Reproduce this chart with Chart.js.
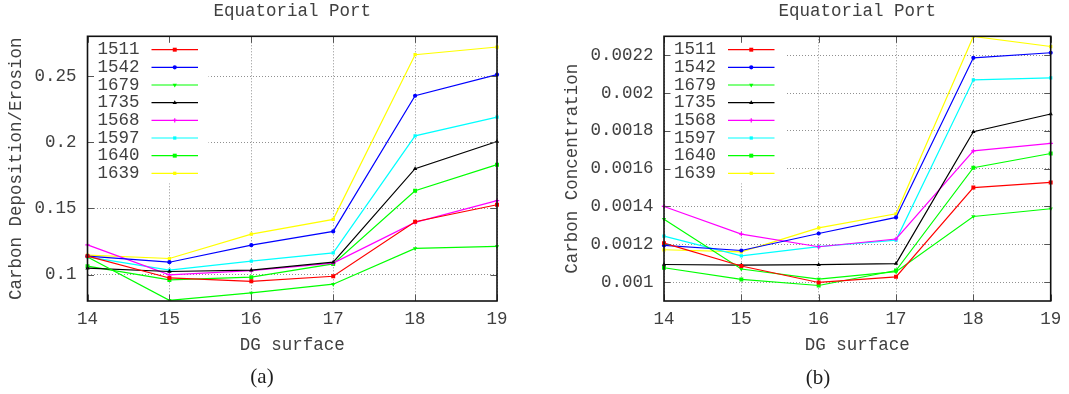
<!DOCTYPE html>
<html>
<head>
<meta charset="utf-8">
<script src="https://cdn.jsdelivr.net/npm/chart.js@4.4.1/dist/chart.umd.min.js"></script>
<style>
  html, body { margin: 0; padding: 0; background: #fff; }
  #wrap { position: relative; width: 1069px; height: 394px; overflow: hidden; background: #fff; }
  canvas { position: absolute; top: 0; }
  #panelA { left: 0; }
  #panelB { left: 530px; }
  .cap {
    position: absolute; font-family: "Liberation Serif", "DejaVu Serif", serif;
    font-size: 21px; line-height: 1; color: #1e1e1e; transform: translate(-50%, -50%);
    white-space: nowrap;
  }
</style>
</head>
<body>
<div id="wrap">
  <canvas id="panelA" width="530" height="394"></canvas>
  <canvas id="panelB" width="539" height="394"></canvas>
  <div class="cap" style="left:262px; top:376px;">(a)</div>
  <div class="cap" style="left:818px; top:376.5px;">(b)</div>
</div>
<script>
// DG surfaces along the port
const surfaces = ['14', '15', '16', '17', '18', '19'];

// Series (one per discharge)
const seriesNames  = ['1511', '1542', '1679', '1735', '1568', '1597', '1640', '1639'];
const seriesColors = ['#ff0000', '#0000ff', '#00ff00', '#000000', '#ff00ff', '#00ffff', '#00ff00', '#ffff00'];
const markerStyles = ['rect', 'circle', 'triangleDown', 'triangle', 'cross', 'rect', 'rect', 'rect'];
const markerSizes  = [2.8, 2.1, 2.5, 2.5, 2.2, 2.3, 2.8, 2.3];

// (a) Carbon deposition / erosion
const dep1511 = [0.1139, 0.0974, 0.0949, 0.0987, 0.1399, 0.1527];
const dep1542 = [0.1139, 0.1093, 0.1222, 0.1326, 0.2351, 0.2510];
const dep1679 = [0.1133, 0.0805, 0.0861, 0.0927, 0.1197, 0.1212];
const dep1735 = [0.1048, 0.1023, 0.1033, 0.1093, 0.1800, 0.2005];
const dep1568 = [0.1224, 0.0997, 0.1030, 0.1086, 0.1394, 0.1558];
const dep1597 = [0.1133, 0.1033, 0.1101, 0.1164, 0.2048, 0.2189];
const dep1640 = [0.1063, 0.0959, 0.0980, 0.1080, 0.1633, 0.1830];
const dep1639 = [0.1146, 0.1121, 0.1305, 0.1417, 0.2661, 0.2719];
const depTicks = [0.1, 0.15, 0.2, 0.25];
const depTickLabels = ['0.1', '0.15', '0.2', '0.25'];

// (b) Carbon concentration
const conc1511 = [0.001206, 0.001085, 0.000998, 0.001028, 0.001500, 0.001527];
const conc1542 = [0.001194, 0.001167, 0.001257, 0.001342, 0.002186, 0.002213];
const conc1679 = [0.001333, 0.001069, 0.001016, 0.001055, 0.001347, 0.001388];
const conc1735 = [0.001093, 0.001090, 0.001092, 0.001098, 0.001795, 0.001889];
const conc1568 = [0.001400, 0.001254, 0.001187, 0.001228, 0.001694, 0.001734];
const conc1597 = [0.001243, 0.001139, 0.001188, 0.001222, 0.002070, 0.002080];
const conc1640 = [0.001076, 0.001014, 0.000982, 0.001061, 0.001605, 0.001680];
const conc1639 = [0.001171, 0.001160, 0.001287, 0.001361, 0.002299, 0.002246];
const concTicks = [0.001, 0.0012, 0.0014, 0.0016, 0.0018, 0.002, 0.0022];
const concTickLabels = ['0.001', '0.0012', '0.0014', '0.0016', '0.0018', '0.002', '0.0022'];

const MONO = "'Liberation Mono', 'DejaVu Sans Mono', monospace";
const TEXT = '#404040';
const FONT = { family: MONO, size: 17.5, weight: 'normal', lineHeight: 1.2 };

// Key, frame and inward tick marks in gnuplot style
const gnuFrame = {
  id: 'gnuFrame',
  afterDatasetsDraw(chart, args, o) {
    const { ctx, chartArea: a } = chart;
    ctx.save();
    ctx.fillStyle = '#ffffff';
    ctx.fillRect(a.left + 1, a.top + 1, o.keyW, o.keyH);
    ctx.font = `${FONT.size}px ${MONO}`;
    ctx.textAlign = 'right';
    ctx.textBaseline = 'middle';
    chart.data.datasets.forEach((ds, i) => {
      const y = a.top + o.keyTop + i * o.keyRow;
      ctx.fillStyle = TEXT;
      ctx.fillText(ds.label, a.left + o.keyTextRight, y);
      ctx.strokeStyle = ds.borderColor;
      ctx.lineWidth = ds.borderWidth;
      ctx.beginPath();
      ctx.moveTo(a.left + o.keyLine0, y);
      ctx.lineTo(a.left + o.keyLine1, y);
      ctx.stroke();
      ctx.fillStyle = ds.backgroundColor;
      ctx.strokeStyle = ds.borderColor;
      ctx.lineWidth = ds.pointBorderWidth;
      Chart.helpers.drawPoint(ctx, {
        pointStyle: ds.pointStyle, rotation: ds.pointRotation,
        radius: ds.pointRadius, borderWidth: ds.pointBorderWidth
      }, a.left + (o.keyLine0 + o.keyLine1) / 2, y);
    });
    ctx.restore();
  },
  afterDraw(chart, args, o) {
    const { ctx, chartArea: a, scales } = chart;
    ctx.save();
    ctx.strokeStyle = '#555555';
    ctx.lineWidth = 1;
    ctx.beginPath();
    scales.x.ticks.forEach((t, i) => {
      const px = Math.round(scales.x.getPixelForTick(i)) + 0.5;
      ctx.moveTo(px, a.bottom); ctx.lineTo(px, a.bottom - o.tick);
      ctx.moveTo(px, a.top); ctx.lineTo(px, a.top + o.tick);
    });
    scales.y.ticks.forEach(t => {
      const py = Math.round(scales.y.getPixelForValue(t.value)) + 0.5;
      ctx.moveTo(a.left, py); ctx.lineTo(a.left + o.tick, py);
      ctx.moveTo(a.right, py); ctx.lineTo(a.right - o.tick, py);
    });
    ctx.stroke();
    ctx.strokeStyle = '#111111';
    ctx.lineWidth = 1.6;
    ctx.strokeRect(a.left, a.top, a.right - a.left, a.bottom - a.top);
    ctx.restore();
  }
};

function buildDatasets(values) {
  return seriesNames.map((name, i) => {
    const down = markerStyles[i] === 'triangleDown';
    const cross = markerStyles[i] === 'cross';
    return {
      label: name,
      data: values[i],
      borderColor: seriesColors[i],
      backgroundColor: seriesColors[i],
      borderWidth: 1.2,
      tension: 0,
      fill: false,
      pointStyle: down ? 'triangle' : markerStyles[i],
      pointRotation: down ? 180 : 0,
      pointRadius: markerSizes[i],
      pointBorderWidth: cross ? 1.2 : 0,
      pointBackgroundColor: seriesColors[i],
      pointBorderColor: seriesColors[i]
    };
  });
}

function makePanel(id, cfg) {
  const L = cfg.layout;
  const gridStyle = { color: '#909090', lineWidth: 1, drawTicks: false };
  return new Chart(document.getElementById(id), {
    type: 'line',
    data: { labels: surfaces, datasets: buildDatasets(cfg.values) },
    plugins: [gnuFrame],
    options: {
      responsive: false,
      animation: false,
      devicePixelRatio: 1,
      layout: { padding: { left: 0, right: L.padRight, top: 0, bottom: 0 } },
      plugins: {
        legend: { display: false },
        tooltip: { enabled: false },
        title: {
          display: true, text: 'Equatorial Port', fullSize: false,
          font: FONT, color: TEXT, padding: { top: L.titleTop, bottom: L.titleBottom }
        },
        gnuFrame: {
          keyW: 120, keyH: 146, keyTop: 13.4, keyRow: 17.66,
          keyTextRight: 52, keyLine0: 64, keyLine1: 110.5, tick: 6.5
        }
      },
      scales: {
        x: {
          type: 'category', offset: false,
          grid: gridStyle,
          border: { display: false, dash: [1, 2] },
          ticks: { font: FONT, color: TEXT, padding: L.xTickPad, maxRotation: 0, autoSkip: false },
          title: { display: true, text: 'DG surface', font: FONT, color: TEXT, padding: { top: 0, bottom: L.xTitlePad } },
          afterFit: s => { s.height = L.xAxisH; }
        },
        y: {
          type: 'linear', min: cfg.range[0], max: cfg.range[1],
          afterBuildTicks: s => { s.ticks = cfg.ticks.map(v => ({ value: v })); },
          grid: gridStyle,
          border: { display: false, dash: [1, 2] },
          ticks: {
            font: FONT, color: TEXT, padding: L.yTickPad,
            callback: v => cfg.tickLabels[cfg.ticks.indexOf(v)]
          },
          title: { display: true, text: cfg.yTitle, font: FONT, color: TEXT, padding: { top: L.yTitlePad, bottom: 0 } },
          afterFit: s => { s.width = L.yAxisW; }
        }
      }
    }
  });
}

makePanel('panelA', {
  values: [dep1511, dep1542, dep1679, dep1735, dep1568, dep1597, dep1640, dep1639],
  range: [0.08, 0.28],
  ticks: depTicks,
  tickLabels: depTickLabels,
  yTitle: 'Carbon Deposition/Erosion',
  layout: { yAxisW: 87.5, padRight: 33, titleTop: 0.5, titleBottom: 14.8, xAxisH: 93,
            xTickPad: 7.8, xTitlePad: 37.8, yTickPad: 11, yTitlePad: 5.9 }
});

makePanel('panelB', {
  values: [conc1511, conc1542, conc1679, conc1735, conc1568, conc1597, conc1640, conc1639],
  range: [0.0009, 0.0023],
  ticks: concTicks,
  tickLabels: concTickLabels,
  yTitle: 'Carbon Concentration',
  layout: { yAxisW: 134, padRight: 16, titleTop: 0.5, titleBottom: 14.8, xAxisH: 93,
            xTickPad: 7.8, xTitlePad: 37.8, yTickPad: 10.5, yTitlePad: 31.6 }
});
</script>
</body>
</html>
